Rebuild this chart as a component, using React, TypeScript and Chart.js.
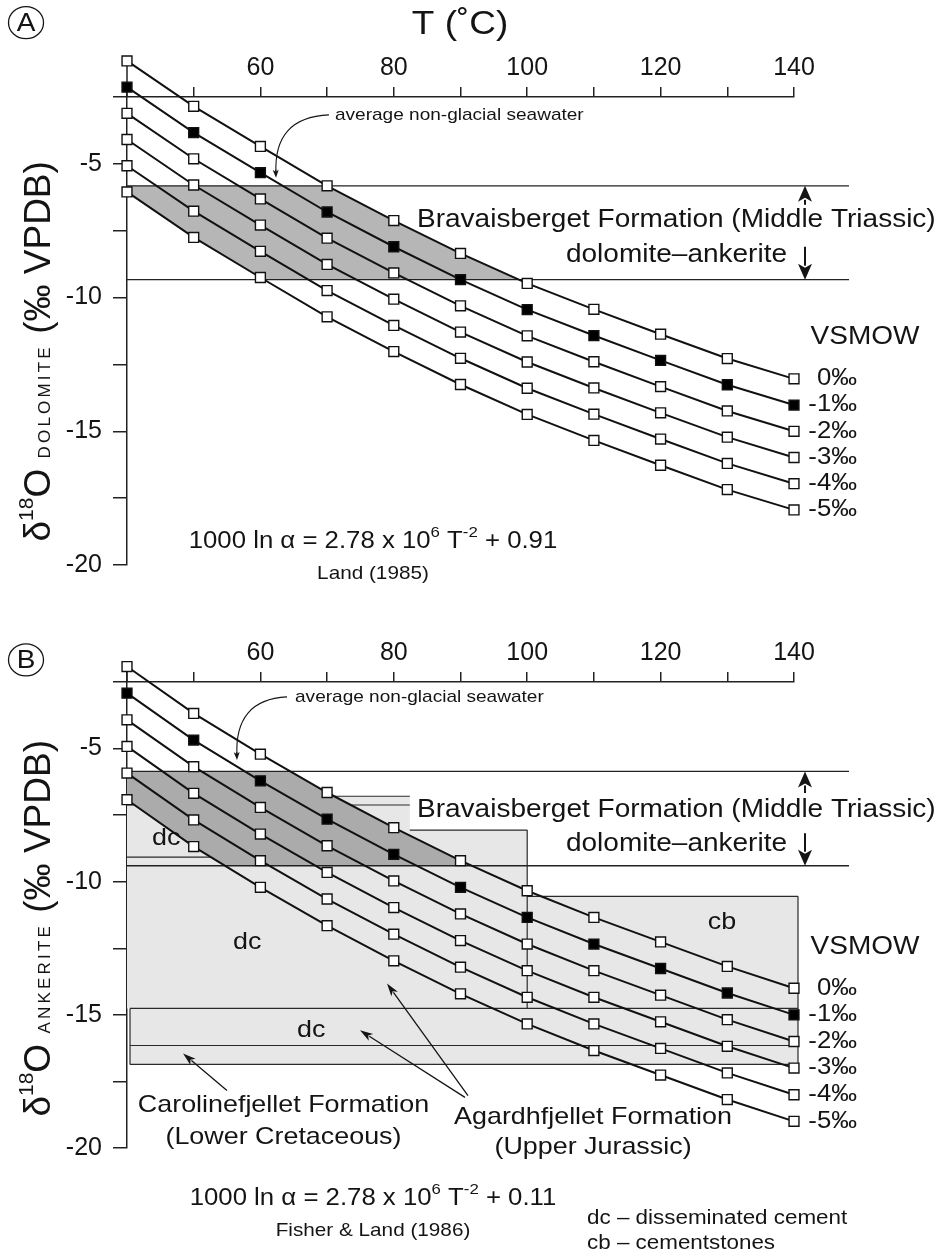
import React, { useEffect, useRef } from 'react';
import { Chart, registerables } from 'chart.js';

Chart.register(...registerables);

const FONT = '"Liberation Sans", Arial, Helvetica, sans-serif';
const INK = '#141414';
const SX = 1.12;

// ---------------- data ----------------
const temperatures = [40, 50, 60, 70, 80, 90, 100, 110, 120, 130, 140];
const waterLabels = ['0‰', '-1‰', '-2‰', '-3‰', '-4‰', '-5‰'];
const xTickLabels = [60, 80, 100, 120, 140];
const yTickLabels = [-5, -10, -15, -20];

// Panel A: dolomite (Land 1985)
const dolomite0 = [-1.15, -2.85, -4.35, -5.82, -7.12, -8.35, -9.47, -10.44, -11.37, -12.28, -13.04];
const dolomiteM1 = [-2.13, -3.83, -5.33, -6.8, -8.1, -9.33, -10.45, -11.42, -12.35, -13.26, -14.02];
const dolomiteM2 = [-3.11, -4.81, -6.31, -7.78, -9.08, -10.31, -11.43, -12.4, -13.33, -14.24, -15.0];
const dolomiteM3 = [-4.09, -5.79, -7.29, -8.76, -10.06, -11.29, -12.41, -13.38, -14.31, -15.22, -15.98];
const dolomiteM4 = [-5.07, -6.77, -8.27, -9.74, -11.04, -12.27, -13.39, -14.36, -15.29, -16.2, -16.96];
const dolomiteM5 = [-6.05, -7.75, -9.25, -10.72, -12.02, -13.25, -14.37, -15.34, -16.27, -17.18, -17.94];

// Panel B: ankerite (Fisher & Land 1986)
const ankerite0 = [-1.92, -3.68, -5.21, -6.65, -7.97, -9.21, -10.34, -11.34, -12.26, -13.18, -14.0];
const ankeriteM1 = [-2.92, -4.68, -6.21, -7.65, -8.97, -10.21, -11.34, -12.34, -13.26, -14.18, -15.0];
const ankeriteM2 = [-3.92, -5.68, -7.21, -8.65, -9.97, -11.21, -12.34, -13.34, -14.26, -15.18, -16.0];
const ankeriteM3 = [-4.92, -6.68, -8.21, -9.65, -10.97, -12.21, -13.34, -14.34, -15.26, -16.18, -17.0];
const ankeriteM4 = [-5.92, -7.68, -9.21, -10.65, -11.97, -13.21, -14.34, -15.34, -16.26, -17.18, -18.0];
const ankeriteM5 = [-6.92, -8.68, -10.21, -11.65, -12.97, -14.21, -15.34, -16.34, -17.26, -18.18, -19.0];

// Bravaisberget Formation dolomite-ankerite range (δ top, δ bottom)
const bravaisbergetA = [-5.82, -9.33];
const bravaisbergetB = [-5.86, -9.4];

// Panel B ranges: [T from, T to, δ top, δ bottom]
const agardhUpperDc = [40, 82.4, -6.79, -9.08];
const agardhMainDc = [40, 100, -8.06, -14.76];
const agardhCb = [100, 140.6, -10.55, -14.76];
const agardhLowerDc = [40.45, 140.6, -14.76, -16.15];
const carolinefjellet = [40.45, 140.6, -16.15, -16.86];

// visible outline segments of those ranges: [T1, δ1, T2, δ2]
const rangeEdgesB = [
  [40, -6.79, 82.4, -6.79],
  [40, -7.12, 82.4, -7.12],
  [40, -9.08, 82.4, -9.08],
  [82.4, -8.06, 100, -8.06],
  [100, -8.06, 100, -14.76],
  [100, -10.55, 140.6, -10.55],
  [140.6, -10.55, 140.6, -16.86],
  [40.45, -14.76, 140.6, -14.76],
  [40.45, -16.15, 140.6, -16.15],
  [40.45, -16.86, 140.6, -16.86],
  [40.45, -14.76, 40.45, -16.86],
];

// ---------------- helpers ----------------
type Piece = [string, number, number?];

function txt(ctx: any, s: string, x: number, y: number, size: number, align: CanvasTextAlign = 'center') {
  ctx.save();
  ctx.font = `${size}px ${FONT}`;
  ctx.fillStyle = INK;
  ctx.textAlign = align;
  ctx.textBaseline = 'middle';
  ctx.translate(x, y);
  ctx.scale(SX, 1);
  ctx.fillText(s, 0, 0);
  ctx.restore();
}

function rich(ctx: any, pieces: Piece[], x: number, y: number, align: 'left' | 'center' | 'right') {
  ctx.save();
  ctx.fillStyle = INK;
  ctx.textAlign = 'left';
  ctx.textBaseline = 'middle';
  const ws = pieces.map(([t, s]) => {
    ctx.font = `${s}px ${FONT}`;
    return ctx.measureText(t).width;
  });
  const total = ws.reduce((a, b) => a + b, 0);
  ctx.translate(x, y);
  ctx.scale(SX, 1);
  let cx = align === 'center' ? -total / 2 : align === 'right' ? -total : 0;
  pieces.forEach(([t, s, dy], i) => {
    ctx.font = `${s}px ${FONT}`;
    ctx.fillText(t, cx, dy || 0);
    cx += ws[i];
  });
  ctx.restore();
}

function arrow(ctx: any, x1: number, y1: number, x2: number, y2: number, hl: number, hw: number, lw: number) {
  const a = Math.atan2(y2 - y1, x2 - x1);
  const bx = x2 - hl * Math.cos(a);
  const by = y2 - hl * Math.sin(a);
  ctx.save();
  ctx.strokeStyle = INK;
  ctx.fillStyle = INK;
  ctx.lineWidth = lw;
  ctx.beginPath();
  ctx.moveTo(x1, y1);
  ctx.lineTo(bx + Math.cos(a) * 2, by + Math.sin(a) * 2);
  ctx.stroke();
  ctx.beginPath();
  ctx.moveTo(x2, y2);
  ctx.lineTo(bx + (hw / 2) * Math.sin(a), by - (hw / 2) * Math.cos(a));
  ctx.lineTo(bx + Math.cos(a) * hl * 0.25, by + Math.sin(a) * hl * 0.25);
  ctx.lineTo(bx - (hw / 2) * Math.sin(a), by + (hw / 2) * Math.cos(a));
  ctx.closePath();
  ctx.fill();
  ctx.restore();
}

type Panel = {
  letter: string;
  series: number[][];
  band: number[];
  bandColor: string;
  topH: number;
  padBottom: number;
  height: number;
  mineral: string;
  boxes?: number[][];
  edges?: number[][];
  showTitle: boolean;
  circle: [number, number];
  yTitle: [number, number];
  seawaterText: [number, number];
  seawaterCurve: number[];
  bravText: [number, number];
  dolAnkText: [number, number];
  upArrow: [number, number];
  downArrow: [number, number];
  vsmow: [number, number];
  eq: [number, number];
  eqConst: string;
  cite: [number, number];
  citeText: string;
  extra?: (ctx: any, X: (v: number) => number, Y: (v: number) => number) => void;
};

const panelA: Panel = {
  letter: 'A',
  series: [dolomite0, dolomiteM1, dolomiteM2, dolomiteM3, dolomiteM4, dolomiteM5],
  band: bravaisbergetA,
  bandColor: '#b6b6b6',
  topH: 97,
  padBottom: 35,
  height: 600,
  mineral: 'DOLOMITE',
  showTitle: true,
  circle: [24.86, 0.28],
  yTitle: [28.46, -12.01],
  seawaterText: [71.18, -3.17],
  seawaterCurve: [70.28, -3.17, 61.9, -3.26, 62.34, -5.52],
  bravText: [83.48, -7.09],
  dolAnkText: [138.95, -8.4],
  upArrow: [-6.53, -5.82],
  downArrow: [-8.1, -9.33],
  vsmow: [150.64, -11.49],
  eq: [76.88, -19.14],
  eqConst: ' + 0.91',
  cite: [76.88, -20.34],
  citeText: 'Land (1985)',
};

const panelB: Panel = {
  letter: 'B',
  series: [ankerite0, ankeriteM1, ankeriteM2, ankeriteM3, ankeriteM4, ankeriteM5],
  band: bravaisbergetB,
  bandColor: '#ababab',
  topH: 82,
  padBottom: 106,
  height: 654,
  mineral: 'ANKERITE',
  boxes: [agardhUpperDc, agardhMainDc, agardhCb, agardhLowerDc, carolinefjellet],
  edges: rangeEdgesB,
  showTitle: false,
  circle: [24.86, -1.67],
  yTitle: [28.46, -11.75],
  seawaterText: [65.19, -3.06],
  seawaterCurve: [63.99, -3.06, 56.04, -3.16, 56.49, -5.43],
  bravText: [83.48, -7.31],
  dolAnkText: [138.95, -8.59],
  upArrow: [-6.67, -5.86],
  downArrow: [-8.18, -9.4],
  vsmow: [150.64, -12.46],
  eq: [76.88, -21.9],
  eqConst: ' + 0.11',
  cite: [76.88, -23.1],
  citeText: 'Fisher & Land (1986)',
  extra: (ctx, X, Y) => {
    txt(ctx, 'dc', X(43.75), Y(-8.36), 24, 'left');
    txt(ctx, 'dc', X(55.89), Y(-12.27), 24, 'left');
    txt(ctx, 'dc', X(65.49), Y(-15.58), 24, 'left');
    txt(ctx, 'cb', X(129.2), Y(-11.52), 24, 'center');
    txt(ctx, 'Carolinefjellet Formation', X(63.46), Y(-18.4), 24, 'center');
    txt(ctx, '(Lower Cretaceous)', X(63.46), Y(-19.6), 24, 'center');
    txt(ctx, 'Agardhfjellet Formation', X(109.87), Y(-18.85), 24, 'center');
    txt(ctx, '(Upper Jurassic)', X(109.87), Y(-19.98), 24, 'center');
    arrow(ctx, X(54.99), Y(-17.84), X(48.4), Y(-16.45), 13, 8, 1.3);
    arrow(ctx, X(90.67), Y(-18.1), X(74.93), Y(-15.58), 13, 8, 1.3);
    arrow(ctx, X(91.12), Y(-18.03), X(78.98), Y(-13.82), 13, 8, 1.3);
    txt(ctx, 'dc – disseminated cement', X(108.97), Y(-22.65), 20, 'left');
    txt(ctx, 'cb – cementstones', X(108.97), Y(-23.59), 20, 'left');
  },
};

function makePlugin(p: Panel) {
  let savedTop = 0;
  return {
    id: 'figure' + p.letter,
    beforeDatasetsDraw(chart: any) {
      const ctx = chart.ctx;
      const xs = chart.scales.x;
      const ys = chart.scales.y;
      const X = (v: number) => xs.getPixelForValue(v);
      const Y = (v: number) => ys.getPixelForValue(v);
      ctx.save();
      if (p.boxes) {
        ctx.fillStyle = '#e7e7e7';
        for (const b of p.boxes) ctx.fillRect(X(b[0]), Y(b[2]), X(b[1]) - X(b[0]), Y(b[3]) - Y(b[2]));
      }
      if (p.edges) {
        ctx.strokeStyle = '#2a2a2a';
        ctx.lineWidth = 1.2;
        for (const s of p.edges) {
          ctx.beginPath();
          ctx.moveTo(X(s[0]), Y(s[1]));
          ctx.lineTo(X(s[2]), Y(s[3]));
          ctx.stroke();
        }
      }
      // dark grey band: between 0‰ and -5‰ curves within Bravaisberget range
      ctx.save();
      ctx.beginPath();
      ctx.rect(X(40), Y(p.band[0]), X(150) - X(40), Y(p.band[1]) - Y(p.band[0]));
      ctx.clip();
      ctx.beginPath();
      const top = p.series[0];
      const bot = p.series[5];
      temperatures.forEach((t, i) => (i ? ctx.lineTo(X(t), Y(top[i])) : ctx.moveTo(X(t), Y(top[i]))));
      for (let i = temperatures.length - 1; i >= 0; i--) ctx.lineTo(X(temperatures[i]), Y(bot[i]));
      ctx.closePath();
      ctx.fillStyle = p.bandColor;
      ctx.fill();
      ctx.restore();
      ctx.strokeStyle = '#222';
      ctx.lineWidth = 1.3;
      for (const v of p.band) {
        ctx.beginPath();
        ctx.moveTo(X(40), Y(v));
        ctx.lineTo(X(148.25), Y(v));
        ctx.stroke();
      }
      // y axis continues up to the first marker
      ctx.lineWidth = 1.5;
      ctx.beginPath();
      ctx.moveTo(X(40), Y(-2.5));
      ctx.lineTo(X(40), Y(p.series[0][0]));
      ctx.stroke();
      ctx.restore();
      // let markers above the top axis be drawn
      savedTop = chart.chartArea.top;
      chart.chartArea.top = savedTop - 120;
    },
    afterDatasetsDraw(chart: any) {
      chart.chartArea.top = savedTop;
    },
    afterDraw(chart: any) {
      const ctx = chart.ctx;
      const xs = chart.scales.x;
      const ys = chart.scales.y;
      const X = (v: number) => xs.getPixelForValue(v);
      const Y = (v: number) => ys.getPixelForValue(v);
      ctx.save();
      // circled letter
      ctx.strokeStyle = INK;
      ctx.lineWidth = 1.3;
      ctx.beginPath();
      ctx.ellipse(X(p.circle[0]), Y(p.circle[1]), 17.5, 16, 0, 0, Math.PI * 2);
      ctx.stroke();
      txt(ctx, p.letter, X(p.circle[0]), Y(p.circle[1]) + 1, 25, 'center');
      if (p.showTitle) txt(ctx, 'T (˚C)', X(89.93), Y(0.19), 33, 'center');

      // rotated y title
      ctx.save();
      ctx.translate(X(p.yTitle[0]), Y(p.yTitle[1]));
      ctx.rotate(-Math.PI / 2);
      ctx.fillStyle = INK;
      ctx.textBaseline = 'alphabetic';
      ctx.textAlign = 'left';
      const tp: [string, number, number, number][] = [
        ['δ', 37, 0, 0],
        ['18', 21, -17, 0],
        ['O', 37, 0, 0],
        [' ', 37, 0, 0],
        [p.mineral, 17, 0, 3.2],
        [' (‰ VPDB)', 37, 0, 0],
      ];
      const tw = tp.map(([t, s, , ls]) => {
        ctx.font = `${s}px ${FONT}`;
        (ctx as any).letterSpacing = `${ls}px`;
        return ctx.measureText(t).width;
      });
      let cx = -tw.reduce((a, b) => a + b, 0) / 2;
      tp.forEach(([t, s, dy, ls], i) => {
        ctx.font = `${s}px ${FONT}`;
        (ctx as any).letterSpacing = `${ls}px`;
        ctx.fillText(t, cx, dy);
        cx += tw[i];
      });
      (ctx as any).letterSpacing = '0px';
      ctx.restore();

      // seawater annotation
      txt(ctx, 'average non-glacial seawater', X(p.seawaterText[0]), Y(p.seawaterText[1]), 17, 'left');
      const c = p.seawaterCurve;
      const sx0 = X(c[0]), sy0 = Y(c[1]), cx1 = X(c[2]), cy1 = Y(c[3]), ex = X(c[4]), ey = Y(c[5]);
      ctx.strokeStyle = INK;
      ctx.lineWidth = 1.1;
      ctx.beginPath();
      ctx.moveTo(sx0, sy0);
      ctx.quadraticCurveTo(cx1, cy1, ex, ey - 4);
      ctx.stroke();
      arrow(ctx, ex - 0.3, ey - 8, ex, ey, 8, 6, 1.1);

      // Bravaisberget labels and arrows
      txt(ctx, 'Bravaisberget Formation (Middle Triassic)', X(p.bravText[0]), Y(p.bravText[1]), 25, 'left');
      txt(ctx, 'dolomite–ankerite', X(p.dolAnkText[0]), Y(p.dolAnkText[1]), 25, 'right');
      arrow(ctx, X(141.65), Y(p.upArrow[0]), X(141.65), Y(p.upArrow[1]), 16, 14, 2);
      arrow(ctx, X(141.65), Y(p.downArrow[0]), X(141.65), Y(p.downArrow[1]), 16, 14, 2);

      // VSMOW labels
      txt(ctx, 'VSMOW', X(p.vsmow[0]), Y(p.vsmow[1]), 25, 'center');
      p.series.forEach((s, i) => {
        txt(ctx, waterLabels[i], X(149.44), Y(s[s.length - 1]), 23, 'right');
      });

      // equation and citation
      rich(
        ctx,
        [
          ['1000 ln α = 2.78 x 10', 23],
          ['6', 15, -9],
          [' T', 23],
          ['-2', 15, -9],
          [p.eqConst, 23],
        ],
        X(p.eq[0]),
        Y(p.eq[1]),
        'center'
      );
      txt(ctx, p.citeText, X(p.cite[0]), Y(p.cite[1]), 18.5, 'center');

      if (p.extra) p.extra(ctx, X, Y);
      ctx.restore();
    },
  };
}

function makeChart(canvas: HTMLCanvasElement, p: Panel) {
  const datasets = p.series.map((vals, i) => ({
    label: waterLabels[i],
    data: temperatures.map((t, j) => ({ x: t, y: vals[j] })),
    borderColor: '#111',
    borderWidth: 2,
    pointStyle: 'rect',
    pointRadius: 7,
    pointHoverRadius: 7,
    pointBorderWidth: 1.4,
    pointBorderColor: '#111',
    pointBackgroundColor: i === 1 ? '#000' : '#fff',
    tension: 0,
    clip: false as any,
  }));
  const tickFont = { family: FONT, size: 25 };
  return new Chart(canvas, {
    type: 'line',
    data: { datasets },
    options: {
      animation: false,
      responsive: false,
      maintainAspectRatio: false,
      events: [],
      layout: { padding: { left: 0, right: 149, top: 0, bottom: p.padBottom } },
      plugins: { legend: { display: false }, tooltip: { enabled: false }, title: { display: false } },
      scales: {
        x: {
          type: 'linear',
          position: 'top',
          min: 40,
          max: 140,
          ticks: {
            stepSize: 10,
            autoSkip: false,
            maxRotation: 0,
            color: INK,
            font: tickFont,
            padding: 4,
            callback: (v: any) => (xTickLabels.some((t) => Math.abs(t - v) < 1e-6) ? String(Math.round(v)) : ''),
          },
          grid: { drawOnChartArea: false, drawTicks: true, tickLength: 10, color: '#222', lineWidth: 1.5 },
          border: { display: true, color: '#222', width: 1.5 },
          afterFit: (s: any) => {
            s.height = p.topH;
          },
        },
        y: {
          type: 'linear',
          min: -20,
          max: -2.5,
          ticks: {
            stepSize: 2.5,
            autoSkip: false,
            color: INK,
            font: tickFont,
            padding: 11,
            callback: (v: any) => (yTickLabels.some((t) => Math.abs(t - v) < 1e-6) ? String(Math.round(v)) : ''),
          },
          grid: { drawOnChartArea: false, drawTicks: true, tickLength: 14, color: '#222', lineWidth: 1.5 },
          border: { display: true, color: '#222', width: 1.5 },
          afterFit: (s: any) => {
            s.width = 127;
          },
        },
      },
    } as any,
    plugins: [makePlugin(p)],
  });
}

export default function App() {
  const refA = useRef<HTMLCanvasElement>(null);
  const refB = useRef<HTMLCanvasElement>(null);
  useEffect(() => {
    const a = makeChart(refA.current!, panelA);
    const b = makeChart(refB.current!, panelB);
    return () => {
      a.destroy();
      b.destroy();
    };
  }, []);
  return (
    <div style={{ position: 'absolute', left: 0, top: 0, width: 943, height: 1254, background: '#fff' }}>
      <canvas ref={refA} width={943} height={panelA.height} style={{ position: 'absolute', left: 0, top: 0 }} />
      <canvas ref={refB} width={943} height={panelB.height} style={{ position: 'absolute', left: 0, top: 600 }} />
    </div>
  );
}
